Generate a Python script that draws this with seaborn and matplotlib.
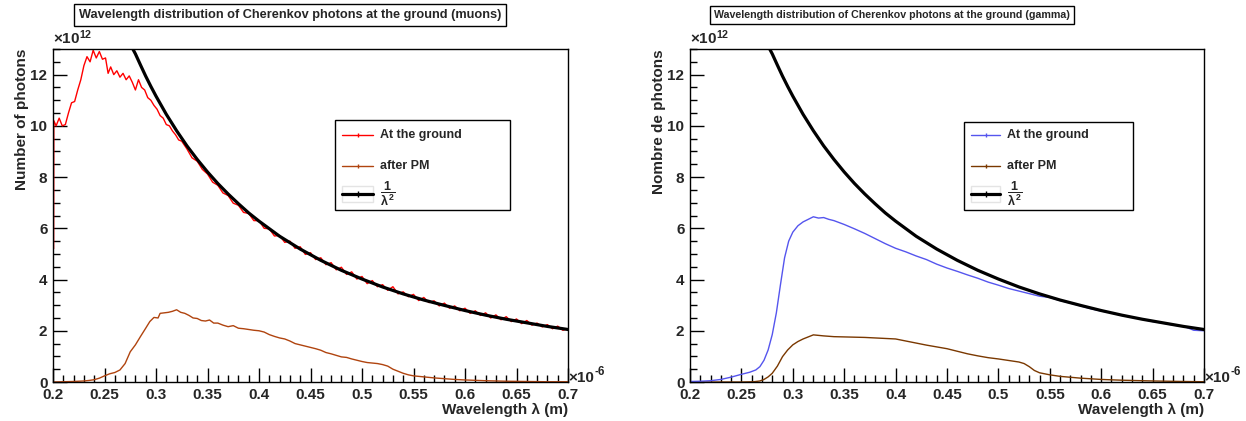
import matplotlib
matplotlib.use("Agg")
import matplotlib.pyplot as plt
import seaborn as sns
from matplotlib.patches import Rectangle
from matplotlib.ticker import MultipleLocator

sns.set_style("white")
plt.rcParams["font.family"] = ["Liberation Sans", "DejaVu Sans"]
plt.rcParams["font.weight"] = "bold"
plt.rcParams["axes.labelweight"] = "bold"
plt.rcParams["mathtext.fontset"] = "custom"
plt.rcParams["mathtext.rm"] = "Liberation Sans:bold"
plt.rcParams["mathtext.bf"] = "Liberation Sans:bold"
plt.rcParams["mathtext.it"] = "Liberation Sans:bold"

# --- data (wavelength in 1e-6 m, photons in 1e12) ---
titles = ["Wavelength distribution of Cherenkov photons at the ground (muons)",
          "Wavelength distribution of Cherenkov photons at the ground (gamma)"]
ylabels = ["Number of photons", "Nombre de photons"]
legend_labels = ["At the ground", "after PM", r"$\dfrac{1}{\lambda^{2}}$"]

inv_x = [0.2775, 0.28, 0.285, 0.29, 0.295, 0.30, 0.31, 0.32, 0.33, 0.34, 0.35, 0.36,
         0.37, 0.38, 0.39, 0.40, 0.42, 0.44, 0.46, 0.48, 0.50, 0.52, 0.54, 0.56,
         0.58, 0.60, 0.62, 0.64, 0.66, 0.68, 0.70]
inv_y = [13.0, 12.81, 12.37, 11.94, 11.54, 11.16, 10.45, 9.81, 9.22, 8.69, 8.20, 7.75,
         7.34, 6.96, 6.60, 6.28, 5.69, 5.19, 4.75, 4.36, 4.02, 3.71, 3.44, 3.20,
         2.99, 2.79, 2.61, 2.45, 2.31, 2.17, 2.05]

mu_ground_x = [0.2006, 0.2008, 0.203, 0.206, 0.209, 0.212, 0.215, 0.218, 0.221, 0.224,
               0.227, 0.230, 0.233, 0.236, 0.239, 0.242, 0.245, 0.248, 0.251, 0.2535,
               0.256, 0.259, 0.262, 0.265, 0.268, 0.271, 0.274, 0.277, 0.280, 0.283,
               0.286, 0.289, 0.292, 0.295, 0.298, 0.301, 0.304, 0.307, 0.310, 0.313,
               0.316, 0.319, 0.322, 0.325, 0.330, 0.335, 0.340, 0.345, 0.350, 0.355,
               0.360, 0.365, 0.370, 0.375, 0.380, 0.385, 0.390, 0.395, 0.400, 0.405,
               0.410, 0.415, 0.420, 0.425, 0.430, 0.435, 0.440, 0.445, 0.450, 0.455,
               0.460, 0.465, 0.470, 0.475, 0.480, 0.485, 0.490, 0.495, 0.500, 0.505,
               0.510, 0.515, 0.520, 0.525, 0.530, 0.535, 0.540, 0.545, 0.550, 0.555,
               0.560, 0.565, 0.570, 0.575, 0.580, 0.585, 0.590, 0.595, 0.600, 0.605,
               0.610, 0.615, 0.620, 0.625, 0.630, 0.635, 0.640, 0.645, 0.650, 0.655,
               0.660, 0.665, 0.670, 0.675, 0.680, 0.685, 0.690, 0.695, 0.700]
mu_ground_y = [5.2, 10.2, 10.0, 10.3, 10.0, 10.05, 10.5, 10.9, 10.95, 11.4,
               11.8, 12.35, 12.7, 12.5, 12.95, 12.65, 12.9, 12.6, 12.65, 12.05,
               12.3, 12.0, 12.15, 11.9, 12.05, 11.8, 11.95, 11.7, 11.4, 11.8,
               11.5, 11.4, 11.1, 11.0, 10.8, 10.65, 10.4, 10.3, 10.05, 10.0,
               9.8, 9.65, 9.45, 9.4, 9.1, 8.75, 8.62, 8.3, 8.12, 7.8,
               7.68, 7.38, 7.28, 6.98, 6.9, 6.62, 6.58, 6.3, 6.3, 6.0,
               5.98, 5.7, 5.72, 5.45, 5.5, 5.22, 5.28, 4.98, 5.05, 4.78,
               4.85, 4.58, 4.66, 4.38, 4.48, 4.2, 4.3, 4.02, 4.12, 3.84,
               3.96, 3.72, 3.8, 3.58, 3.72, 3.44, 3.52, 3.33, 3.42, 3.18,
               3.3, 3.1, 3.17, 2.97, 3.08, 2.88, 2.97, 2.78, 2.88, 2.68,
               2.78, 2.6, 2.7, 2.5, 2.62, 2.43, 2.55, 2.36, 2.46, 2.28,
               2.4, 2.22, 2.3, 2.15, 2.24, 2.08, 2.18, 2.02, 2.08]

mu_pm_x = [0.200, 0.210, 0.220, 0.230, 0.235, 0.240, 0.245, 0.250, 0.255, 0.260,
           0.265, 0.270, 0.275, 0.280, 0.285, 0.290, 0.294, 0.298, 0.302, 0.304,
           0.308, 0.312, 0.316, 0.320, 0.324, 0.328, 0.332, 0.336, 0.340, 0.344,
           0.348, 0.352, 0.356, 0.360, 0.365, 0.370, 0.375, 0.380, 0.385, 0.390,
           0.395, 0.400, 0.405, 0.410, 0.415, 0.420, 0.425, 0.430, 0.435, 0.440,
           0.445, 0.450, 0.455, 0.460, 0.465, 0.470, 0.475, 0.480, 0.485, 0.490,
           0.495, 0.500, 0.505, 0.510, 0.515, 0.520, 0.525, 0.530, 0.535, 0.540,
           0.545, 0.550, 0.560, 0.570, 0.580, 0.590, 0.600, 0.620, 0.640, 0.660,
           0.680, 0.700]
mu_pm_y = [0.0, 0.01, 0.02, 0.04, 0.06, 0.09, 0.15, 0.24, 0.32, 0.37,
           0.47, 0.72, 1.18, 1.45, 1.78, 2.1, 2.36, 2.52, 2.5, 2.68,
           2.7, 2.72, 2.76, 2.82, 2.72, 2.68, 2.6, 2.5, 2.48, 2.4,
           2.38, 2.42, 2.3, 2.3, 2.22, 2.16, 2.2, 2.1, 2.08, 2.05,
           2.02, 2.0, 1.95, 1.85, 1.78, 1.72, 1.68, 1.6, 1.5, 1.45,
           1.4, 1.35, 1.3, 1.24, 1.15, 1.1, 1.04, 0.98, 0.96, 0.9,
           0.85, 0.8, 0.76, 0.74, 0.72, 0.68, 0.62, 0.5, 0.42, 0.34,
           0.28, 0.24, 0.2, 0.16, 0.13, 0.1, 0.08, 0.05, 0.03, 0.02,
           0.01, 0.01]

ga_ground_x = [0.200, 0.210, 0.220, 0.230, 0.240, 0.250, 0.258, 0.264, 0.268, 0.272,
               0.276, 0.280, 0.284, 0.288, 0.292, 0.296, 0.300, 0.305, 0.310, 0.315,
               0.320, 0.325, 0.330, 0.335, 0.340, 0.350, 0.360, 0.370, 0.380, 0.390,
               0.400, 0.410, 0.420, 0.430, 0.440, 0.450, 0.460, 0.470, 0.480, 0.490,
               0.500, 0.510, 0.520, 0.530, 0.540, 0.550, 0.560, 0.570, 0.580, 0.590,
               0.600, 0.610, 0.620, 0.630, 0.640, 0.650, 0.660, 0.670, 0.680, 0.690,
               0.700]
ga_ground_y = [0.02, 0.03, 0.05, 0.1, 0.19, 0.3, 0.38, 0.47, 0.6, 0.85,
               1.25, 1.85, 2.7, 3.8, 4.85, 5.5, 5.85, 6.1, 6.25, 6.35,
               6.45, 6.4, 6.42, 6.35, 6.3, 6.15, 5.98, 5.8, 5.6, 5.4,
               5.22, 5.08, 4.92, 4.78, 4.6, 4.45, 4.32, 4.18, 4.05, 3.9,
               3.78, 3.65, 3.55, 3.45, 3.35, 3.3, 3.18, 3.08, 2.97, 2.86,
               2.77, 2.7, 2.6, 2.53, 2.45, 2.36, 2.3, 2.22, 2.18, 2.02,
               2.0]

ga_pm_x = [0.200, 0.250, 0.262, 0.268, 0.272, 0.276, 0.280, 0.285, 0.290, 0.295,
           0.300, 0.305, 0.310, 0.315, 0.320, 0.325, 0.330, 0.340, 0.350, 0.360,
           0.370, 0.380, 0.390, 0.400, 0.410, 0.420, 0.430, 0.440, 0.450, 0.460,
           0.470, 0.480, 0.490, 0.500, 0.510, 0.520, 0.525, 0.530, 0.535, 0.540,
           0.550, 0.560, 0.580, 0.600, 0.620, 0.650, 0.680, 0.700]
ga_pm_y = [0.0, 0.0, 0.01, 0.04, 0.1, 0.2, 0.34, 0.62, 0.99, 1.25,
           1.45, 1.58, 1.68, 1.76, 1.84, 1.82, 1.8, 1.77, 1.76, 1.75,
           1.74, 1.72, 1.7, 1.68, 1.6, 1.52, 1.44, 1.37, 1.3, 1.2,
           1.1, 1.02, 0.95, 0.9, 0.84, 0.78, 0.72, 0.6, 0.45, 0.36,
           0.28, 0.22, 0.15, 0.1, 0.07, 0.04, 0.02, 0.01]

panels = [
    (mu_ground_x, mu_ground_y, "#ff0000", mu_pm_x, mu_pm_y, "#b0440f"),
    (ga_ground_x, ga_ground_y, "#5555ee", ga_pm_x, ga_pm_y, "#7a3800"),
]

W, H = 1246, 421
fig = plt.figure(figsize=(W / 100, H / 100), dpi=100)
ax_px = [(53, 515), (690, 514)]          # left edge, width in pixels
ax_top, ax_bot = 49, 382
title_cx = [290, 892]
title_fs = [9.2, 7.7]
# legend box (x0, y0, x1, y1) in pixels, line start/end, text start
leg_px = [(335, 120, 510, 210, 342, 373, 380), (964, 122, 1133, 210, 971, 1000, 1007)]
leg_rows = [135, 166, 194]

for i, (gx, gy, gcol, px, py, pcol) in enumerate(panels):
    left, width = ax_px[i]
    ax = fig.add_axes([left / W, (H - ax_bot) / H, width / W, (ax_bot - ax_top) / H])
    sns.lineplot(x=px, y=py, ax=ax, color=pcol, linewidth=1.0, sort=False, estimator=None)
    sns.lineplot(x=gx, y=gy, ax=ax, color=gcol, linewidth=1.0, sort=False, estimator=None)
    sns.lineplot(x=inv_x, y=inv_y, ax=ax, color="black", linewidth=2.3, sort=False, estimator=None)
    ax.set_xlim(0.2, 0.7)
    ax.set_ylim(0, 13)
    ax.xaxis.set_major_locator(MultipleLocator(0.05))
    ax.xaxis.set_minor_locator(MultipleLocator(0.01))
    ax.yaxis.set_major_locator(MultipleLocator(2))
    ax.yaxis.set_minor_locator(MultipleLocator(0.5))
    ax.xaxis.set_major_formatter(plt.FuncFormatter(lambda v, p: f"{v:g}"))
    ax.tick_params(which="both", direction="in", top=False, right=False, left=True, bottom=True,
                   labelsize=11, width=1, color="black")
    ax.tick_params(which="major", length=10, pad=4)
    ax.tick_params(which="minor", length=5)
    for s in ax.spines.values():
        s.set_color("black")
        s.set_linewidth(1)
    ax.set_xlabel("Wavelength \u03bb (m)", loc="right", fontsize=11, labelpad=1)
    ax.set_ylabel(ylabels[i], loc="top", fontsize=11, labelpad=1)
    ax.text(0.0, 1.005, r"$\times$10$^{12}$", transform=ax.transAxes, ha="left", va="bottom", fontsize=11)
    ax.text(1.0, 0.012, "\u00d710", transform=ax.transAxes, ha="left", va="center", fontsize=11)
    ax.annotate("-6", xy=(1.0, 0.012), xycoords="axes fraction", xytext=(19, 4),
                textcoords="offset points", ha="left", va="center", fontsize=8.5)

    # legend drawn as a ROOT-style box
    bx0, by0, bx1, by1, lx0, lx1, tx = leg_px[i]
    fx = lambda p: p / W
    fy = lambda p: (H - p) / H
    fig.patches.append(Rectangle((fx(bx0), fy(by1)), fx(bx1) - fx(bx0), fy(by0) - fy(by1),
                                 transform=fig.transFigure, facecolor="white",
                                 edgecolor="black", linewidth=1, zorder=5))
    fig.patches.append(Rectangle((fx(lx0), fy(leg_rows[2] + 8)), fx(lx1) - fx(lx0), 16 / H,
                                 transform=fig.transFigure, facecolor="none",
                                 edgecolor="#e4e4e4", linewidth=1, zorder=6))
    styles = [(gcol, 1.0, 3), (pcol, 1.0, 3), ("black", 2.3, 5)]
    for (col, lw, ms), row, lab in zip(styles, leg_rows, legend_labels):
        fig.lines.append(plt.Line2D([fx(lx0), fx(lx1)], [fy(row), fy(row)], transform=fig.transFigure,
                                    color=col, linewidth=lw, zorder=7))
        fig.lines.append(plt.Line2D([fx((lx0 + lx1) / 2)], [fy(row)], transform=fig.transFigure,
                                    color=col, marker="|", markersize=ms, linestyle="none", zorder=7))
        fig.text(fx(tx), fy(row), lab, ha="left", va="center", fontsize=9, fontweight="bold", zorder=7)

    fig.text(title_cx[i] / W, 1 - 15 / H, titles[i], ha="center", va="center", fontsize=title_fs[i],
             fontweight="bold",
             bbox=dict(boxstyle="square,pad=0.4", facecolor="white", edgecolor="black", linewidth=1))

fig.savefig("out.png", dpi=100)
